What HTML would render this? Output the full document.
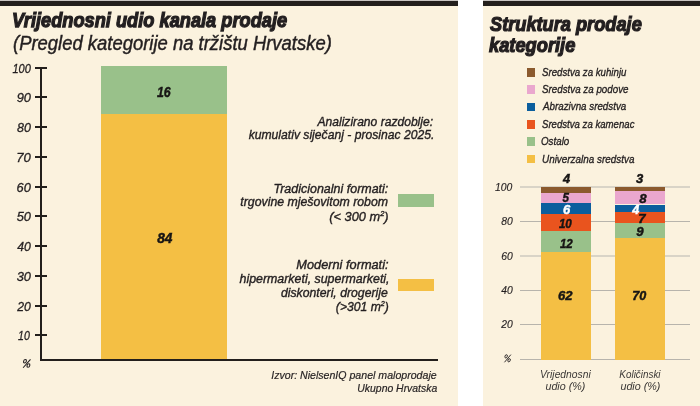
<!DOCTYPE html>
<html><head><meta charset="utf-8"><style>
html,body{margin:0;padding:0;background:#fff;width:700px;height:406px;overflow:hidden;position:relative;font-family:"Liberation Sans",sans-serif}
.t{will-change:transform}
</style></head><body>
<div style="position:absolute;left:0.00px;top:0.00px;width:458.00px;height:406.00px;background:#fbf2de"></div>
<div style="position:absolute;left:483.00px;top:0.00px;width:217.00px;height:406.00px;background:#fbf2de"></div>
<div style="position:absolute;left:0.00px;top:0.00px;width:458.00px;height:1.00px;background:#c9c5c2"></div>
<div style="position:absolute;left:0.00px;top:1.00px;width:458.00px;height:5.00px;background:#231f1c"></div>
<div style="position:absolute;left:483.00px;top:0.00px;width:217.00px;height:1.00px;background:#c9c5c2"></div>
<div style="position:absolute;left:483.00px;top:1.00px;width:217.00px;height:5.00px;background:#231f1c"></div>
<div style="position:absolute;left:35.00px;top:66.70px;width:11.50px;height:2.00px;background:#231f1c"></div>
<div style="position:absolute;left:35.00px;top:96.45px;width:11.50px;height:2.00px;background:#231f1c"></div>
<div style="position:absolute;left:35.00px;top:126.20px;width:11.50px;height:2.00px;background:#231f1c"></div>
<div style="position:absolute;left:35.00px;top:155.95px;width:11.50px;height:2.00px;background:#231f1c"></div>
<div style="position:absolute;left:35.00px;top:185.70px;width:11.50px;height:2.00px;background:#231f1c"></div>
<div style="position:absolute;left:35.00px;top:215.45px;width:11.50px;height:2.00px;background:#231f1c"></div>
<div style="position:absolute;left:35.00px;top:245.20px;width:11.50px;height:2.00px;background:#231f1c"></div>
<div style="position:absolute;left:35.00px;top:274.95px;width:11.50px;height:2.00px;background:#231f1c"></div>
<div style="position:absolute;left:35.00px;top:304.70px;width:11.50px;height:2.00px;background:#231f1c"></div>
<div style="position:absolute;left:35.00px;top:334.45px;width:11.50px;height:2.00px;background:#231f1c"></div>
<div style="position:absolute;left:101.00px;top:66.00px;width:125.50px;height:48.00px;background:#99c18a"></div>
<div style="position:absolute;left:101.00px;top:114.00px;width:125.50px;height:245.00px;background:#f4bf44"></div>
<div style="position:absolute;left:40.00px;top:67.00px;width:2.00px;height:294.00px;background:#231f1c"></div>
<div style="position:absolute;left:40.00px;top:359.00px;width:398.00px;height:2.00px;background:#231f1c"></div>
<div style="position:absolute;left:398.00px;top:194.40px;width:36.00px;height:12.30px;background:#99c18a"></div>
<div style="position:absolute;left:398.00px;top:279.00px;width:36.00px;height:12.00px;background:#f4bf44"></div>
<div style="position:absolute;left:526.70px;top:68.20px;width:8.60px;height:8.50px;background:#8b5a2e"></div>
<div style="position:absolute;left:526.70px;top:85.48px;width:8.60px;height:8.50px;background:#eaa7ce"></div>
<div style="position:absolute;left:526.70px;top:102.76px;width:8.60px;height:8.50px;background:#0b5e9d"></div>
<div style="position:absolute;left:526.70px;top:120.04px;width:8.60px;height:8.50px;background:#e9541e"></div>
<div style="position:absolute;left:526.70px;top:137.32px;width:8.60px;height:8.50px;background:#99c18a"></div>
<div style="position:absolute;left:526.70px;top:154.60px;width:8.60px;height:8.50px;background:#f4bf44"></div>
<div style="position:absolute;left:519.50px;top:186.00px;width:170.50px;height:2.00px;background:#d9d4c7"></div>
<div style="position:absolute;left:519.50px;top:221.00px;width:170.50px;height:1.00px;background:#b7b4ac"></div>
<div style="position:absolute;left:519.50px;top:255.00px;width:170.50px;height:2.00px;background:#d9d4c7"></div>
<div style="position:absolute;left:519.50px;top:290.00px;width:170.50px;height:1.00px;background:#b7b4ac"></div>
<div style="position:absolute;left:519.50px;top:324.00px;width:170.50px;height:1.00px;background:#b7b4ac"></div>
<div style="position:absolute;left:519.50px;top:359.00px;width:170.50px;height:1.00px;background:#b7b4ac"></div>
<div style="position:absolute;left:541.00px;top:187.20px;width:50.00px;height:6.00px;background:#8b5a2e"></div>
<div style="position:absolute;left:541.00px;top:193.20px;width:50.00px;height:9.80px;background:#eaa7ce"></div>
<div style="position:absolute;left:541.00px;top:203.00px;width:50.00px;height:11.00px;background:#0b5e9d"></div>
<div style="position:absolute;left:541.00px;top:214.00px;width:50.00px;height:17.30px;background:#e9541e"></div>
<div style="position:absolute;left:541.00px;top:231.30px;width:50.00px;height:20.80px;background:#99c18a"></div>
<div style="position:absolute;left:541.00px;top:252.10px;width:50.00px;height:107.90px;background:#f4bf44"></div>
<div style="position:absolute;left:615.00px;top:187.10px;width:50.00px;height:4.00px;background:#8b5a2e"></div>
<div style="position:absolute;left:615.00px;top:191.10px;width:50.00px;height:13.40px;background:#eaa7ce"></div>
<div style="position:absolute;left:615.00px;top:204.50px;width:50.00px;height:7.40px;background:#0b5e9d"></div>
<div style="position:absolute;left:615.00px;top:211.90px;width:50.00px;height:11.30px;background:#e9541e"></div>
<div style="position:absolute;left:615.00px;top:223.20px;width:50.00px;height:14.90px;background:#99c18a"></div>
<div style="position:absolute;left:615.00px;top:238.10px;width:50.00px;height:121.90px;background:#f4bf44"></div>
<svg style="position:absolute;left:0;top:0" width="700" height="406" viewBox="0 0 700 406"><ellipse cx="24.98" cy="361.25" rx="1.38" ry="1.79" transform="skewX(-12)" transform-origin="24.98 361.25" fill="none" stroke="#231f20" stroke-width="1.1"/><ellipse cx="28.42" cy="365.48" rx="1.38" ry="1.79" transform="skewX(-12)" transform-origin="28.42 365.48" fill="none" stroke="#231f20" stroke-width="1.1"/><line x1="23.09" y1="367.74" x2="30.48" y2="359.37" stroke="#231f20" stroke-width="1.1"/></svg>
<svg style="position:absolute;left:0;top:0" width="700" height="406" viewBox="0 0 700 406"><ellipse cx="506.12" cy="356.35" rx="1.18" ry="1.63" transform="skewX(-12)" transform-origin="506.12 356.35" fill="none" stroke="#231f20" stroke-width="0.9"/><ellipse cx="509.08" cy="360.22" rx="1.18" ry="1.63" transform="skewX(-12)" transform-origin="509.08 360.22" fill="none" stroke="#231f20" stroke-width="0.9"/><line x1="504.49" y1="362.28" x2="510.86" y2="354.63" stroke="#231f20" stroke-width="0.9"/></svg>
<div class="t" style="position:absolute;left:11.54px;top:10.32px;font-size:20.5px;line-height:20.5px;font-weight:bold;font-style:italic;color:#231f20;-webkit-text-stroke:1.25px #231f20;"><span style="display:inline-block;transform:scaleX(0.8890);transform-origin:0 0;white-space:nowrap">Vrijednosni udio kanala prodaje</span></div>
<div class="t" style="position:absolute;left:12.87px;top:32.90px;font-size:20px;line-height:20px;font-weight:normal;font-style:italic;color:#231f20;-webkit-text-stroke:0.45px #231f20;"><span style="display:inline-block;transform:scaleX(0.9222);transform-origin:0 0;white-space:nowrap">(Pregled kategorije na tržištu Hrvatske)</span></div>
<div class="t" style="position:absolute;right:669.48px;text-align:right;top:62.70px;font-size:12.5px;line-height:12.5px;font-weight:normal;font-style:italic;color:#231f20;-webkit-text-stroke:0.3px #231f20;"><span style="display:inline-block;transform:scaleX(0.8832);transform-origin:100% 0;white-space:nowrap">100</span></div>
<div class="t" style="position:absolute;right:669.47px;text-align:right;top:92.45px;font-size:12.5px;line-height:12.5px;font-weight:normal;font-style:italic;color:#231f20;-webkit-text-stroke:0.3px #231f20;"><span style="display:inline-block;transform:scaleX(1.0269);transform-origin:100% 0;white-space:nowrap">90</span></div>
<div class="t" style="position:absolute;right:669.47px;text-align:right;top:122.20px;font-size:12.5px;line-height:12.5px;font-weight:normal;font-style:italic;color:#231f20;-webkit-text-stroke:0.3px #231f20;"><span style="display:inline-block;transform:scaleX(0.9983);transform-origin:100% 0;white-space:nowrap">80</span></div>
<div class="t" style="position:absolute;right:669.33px;text-align:right;top:151.95px;font-size:12.5px;line-height:12.5px;font-weight:normal;font-style:italic;color:#231f20;-webkit-text-stroke:0.3px #231f20;"><span style="display:inline-block;transform:scaleX(1.0500);transform-origin:100% 0;white-space:nowrap">70</span></div>
<div class="t" style="position:absolute;right:669.56px;text-align:right;top:181.70px;font-size:12.5px;line-height:12.5px;font-weight:normal;font-style:italic;color:#231f20;-webkit-text-stroke:0.3px #231f20;"><span style="display:inline-block;transform:scaleX(1.0275);transform-origin:100% 0;white-space:nowrap">60</span></div>
<div class="t" style="position:absolute;right:669.47px;text-align:right;top:211.45px;font-size:12.5px;line-height:12.5px;font-weight:normal;font-style:italic;color:#231f20;-webkit-text-stroke:0.3px #231f20;"><span style="display:inline-block;transform:scaleX(1.0268);transform-origin:100% 0;white-space:nowrap">50</span></div>
<div class="t" style="position:absolute;right:669.45px;text-align:right;top:241.20px;font-size:12.5px;line-height:12.5px;font-weight:normal;font-style:italic;color:#231f20;-webkit-text-stroke:0.3px #231f20;"><span style="display:inline-block;transform:scaleX(0.9836);transform-origin:100% 0;white-space:nowrap">40</span></div>
<div class="t" style="position:absolute;right:669.44px;text-align:right;top:270.95px;font-size:12.5px;line-height:12.5px;font-weight:normal;font-style:italic;color:#231f20;-webkit-text-stroke:0.3px #231f20;"><span style="display:inline-block;transform:scaleX(1.0265);transform-origin:100% 0;white-space:nowrap">30</span></div>
<div class="t" style="position:absolute;right:669.47px;text-align:right;top:300.70px;font-size:12.5px;line-height:12.5px;font-weight:normal;font-style:italic;color:#231f20;-webkit-text-stroke:0.3px #231f20;"><span style="display:inline-block;transform:scaleX(0.9815);transform-origin:100% 0;white-space:nowrap">20</span></div>
<div class="t" style="position:absolute;right:669.65px;text-align:right;top:330.45px;font-size:12.5px;line-height:12.5px;font-weight:normal;font-style:italic;color:#231f20;-webkit-text-stroke:0.3px #231f20;"><span style="display:inline-block;transform:scaleX(0.8500);transform-origin:100% 0;white-space:nowrap">10</span></div>
<div class="t" style="position:absolute;left:-36.19px;width:400px;text-align:center;top:84.91px;font-size:14px;line-height:14px;font-weight:bold;font-style:italic;color:#171514;-webkit-text-stroke:0.45px #171514;"><span style="display:inline-block;transform:scaleX(0.8800);transform-origin:50% 0;white-space:nowrap">16</span></div>
<div class="t" style="position:absolute;left:-35.26px;width:400px;text-align:center;top:231.31px;font-size:14px;line-height:14px;font-weight:bold;font-style:italic;color:#171514;-webkit-text-stroke:0.45px #171514;"><span style="display:inline-block;transform:scaleX(0.9786);transform-origin:50% 0;white-space:nowrap">84</span></div>
<div class="t" style="position:absolute;right:266.89px;text-align:right;top:114.61px;font-size:13.5px;line-height:13.5px;font-weight:normal;font-style:italic;color:#231f20;-webkit-text-stroke:0.4px #231f20;"><span style="display:inline-block;transform:scaleX(0.8955);transform-origin:100% 0;white-space:nowrap">Analizirano razdoblje:</span></div>
<div class="t" style="position:absolute;right:265.39px;text-align:right;top:128.21px;font-size:13.5px;line-height:13.5px;font-weight:normal;font-style:italic;color:#231f20;-webkit-text-stroke:0.4px #231f20;"><span style="display:inline-block;transform:scaleX(0.8999);transform-origin:100% 0;white-space:nowrap">kumulativ siječanj - prosinac 2025.</span></div>
<div class="t" style="position:absolute;right:311.64px;text-align:right;top:181.91px;font-size:13.5px;line-height:13.5px;font-weight:normal;font-style:italic;color:#231f20;-webkit-text-stroke:0.4px #231f20;"><span style="display:inline-block;transform:scaleX(0.9233);transform-origin:100% 0;white-space:nowrap">Tradicionalni formati:</span></div>
<div class="t" style="position:absolute;right:311.47px;text-align:right;top:195.31px;font-size:13.5px;line-height:13.5px;font-weight:normal;font-style:italic;color:#231f20;-webkit-text-stroke:0.4px #231f20;"><span style="display:inline-block;transform:scaleX(0.9119);transform-origin:100% 0;white-space:nowrap">trgovine mješovitom robom</span></div>
<div class="t" style="position:absolute;right:311.30px;text-align:right;top:209.91px;font-size:13.5px;line-height:13.5px;font-weight:normal;font-style:italic;color:#231f20;-webkit-text-stroke:0.4px #231f20;"><span style="display:inline-block;transform:scaleX(0.9464);transform-origin:100% 0;white-space:nowrap">(&lt; 300 m<sup style="font-size:8px;vertical-align:5px;line-height:0">2</sup>)</span></div>
<div class="t" style="position:absolute;right:311.44px;text-align:right;top:258.11px;font-size:13.5px;line-height:13.5px;font-weight:normal;font-style:italic;color:#231f20;-webkit-text-stroke:0.4px #231f20;"><span style="display:inline-block;transform:scaleX(0.9454);transform-origin:100% 0;white-space:nowrap">Moderni formati:</span></div>
<div class="t" style="position:absolute;right:310.35px;text-align:right;top:272.31px;font-size:13.5px;line-height:13.5px;font-weight:normal;font-style:italic;color:#231f20;-webkit-text-stroke:0.4px #231f20;"><span style="display:inline-block;transform:scaleX(0.9175);transform-origin:100% 0;white-space:nowrap">hipermarketi, supermarketi,</span></div>
<div class="t" style="position:absolute;right:312.16px;text-align:right;top:286.21px;font-size:13.5px;line-height:13.5px;font-weight:normal;font-style:italic;color:#231f20;-webkit-text-stroke:0.4px #231f20;"><span style="display:inline-block;transform:scaleX(0.9072);transform-origin:100% 0;white-space:nowrap">diskonteri, drogerije</span></div>
<div class="t" style="position:absolute;right:310.97px;text-align:right;top:300.11px;font-size:13.5px;line-height:13.5px;font-weight:normal;font-style:italic;color:#231f20;-webkit-text-stroke:0.4px #231f20;"><span style="display:inline-block;transform:scaleX(0.9006);transform-origin:100% 0;white-space:nowrap">(&gt;301 m<sup style="font-size:8px;vertical-align:5px;line-height:0">2</sup>)</span></div>
<div class="t" style="position:absolute;right:263.16px;text-align:right;top:370.00px;font-size:11.5px;line-height:11.5px;font-weight:normal;font-style:italic;color:#231f20;-webkit-text-stroke:0.2px #231f20;"><span style="display:inline-block;transform:scaleX(0.9209);transform-origin:100% 0;white-space:nowrap">Izvor: NielsenIQ panel maloprodaje</span></div>
<div class="t" style="position:absolute;right:262.98px;text-align:right;top:382.60px;font-size:11.5px;line-height:11.5px;font-weight:normal;font-style:italic;color:#231f20;-webkit-text-stroke:0.2px #231f20;"><span style="display:inline-block;transform:scaleX(0.9056);transform-origin:100% 0;white-space:nowrap">Ukupno Hrvatska</span></div>
<div class="t" style="position:absolute;left:489.67px;top:14.01px;font-size:20px;line-height:20px;font-weight:bold;font-style:italic;color:#231f20;-webkit-text-stroke:1.2px #231f20;"><span style="display:inline-block;transform:scaleX(0.9104);transform-origin:0 0;white-space:nowrap">Struktura prodaje</span></div>
<div class="t" style="position:absolute;left:489.39px;top:35.21px;font-size:20px;line-height:20px;font-weight:bold;font-style:italic;color:#231f20;-webkit-text-stroke:1.2px #231f20;"><span style="display:inline-block;transform:scaleX(0.9140);transform-origin:0 0;white-space:nowrap">kategorije</span></div>
<div class="t" style="position:absolute;left:541.84px;top:66.71px;font-size:11.8px;line-height:11.8px;font-weight:normal;font-style:italic;color:#231f20;-webkit-text-stroke:0.35px #231f20;"><span style="display:inline-block;transform:scaleX(0.8200);transform-origin:0 0;white-space:nowrap">Sredstva za kuhinju</span></div>
<div class="t" style="position:absolute;left:541.83px;top:84.06px;font-size:11.8px;line-height:11.8px;font-weight:normal;font-style:italic;color:#231f20;-webkit-text-stroke:0.35px #231f20;"><span style="display:inline-block;transform:scaleX(0.8300);transform-origin:0 0;white-space:nowrap">Sredstva za podove</span></div>
<div class="t" style="position:absolute;left:542.78px;top:101.43px;font-size:11.8px;line-height:11.8px;font-weight:normal;font-style:italic;color:#231f20;-webkit-text-stroke:0.35px #231f20;"><span style="display:inline-block;transform:scaleX(0.8300);transform-origin:0 0;white-space:nowrap">Abrazivna sredstva</span></div>
<div class="t" style="position:absolute;left:541.83px;top:118.79px;font-size:11.8px;line-height:11.8px;font-weight:normal;font-style:italic;color:#231f20;-webkit-text-stroke:0.35px #231f20;"><span style="display:inline-block;transform:scaleX(0.8152);transform-origin:0 0;white-space:nowrap">Sredstva za kamenac</span></div>
<div class="t" style="position:absolute;left:541.25px;top:136.14px;font-size:11.8px;line-height:11.8px;font-weight:normal;font-style:italic;color:#231f20;-webkit-text-stroke:0.35px #231f20;"><span style="display:inline-block;transform:scaleX(0.8300);transform-origin:0 0;white-space:nowrap">Ostalo</span></div>
<div class="t" style="position:absolute;left:541.73px;top:153.51px;font-size:11.8px;line-height:11.8px;font-weight:normal;font-style:italic;color:#231f20;-webkit-text-stroke:0.35px #231f20;"><span style="display:inline-block;transform:scaleX(0.8388);transform-origin:0 0;white-space:nowrap">Univerzalna sredstva</span></div>
<div class="t" style="position:absolute;right:187.99px;text-align:right;top:182.22px;font-size:11.5px;line-height:11.5px;font-weight:normal;font-style:italic;color:#231f20;-webkit-text-stroke:0.15px #231f20;"><span style="display:inline-block;transform:scaleX(0.9000);transform-origin:100% 0;white-space:nowrap">100</span></div>
<div class="t" style="position:absolute;right:187.68px;text-align:right;top:216.40px;font-size:11.5px;line-height:11.5px;font-weight:normal;font-style:italic;color:#231f20;-webkit-text-stroke:0.15px #231f20;"><span style="display:inline-block;transform:scaleX(0.9000);transform-origin:100% 0;white-space:nowrap">80</span></div>
<div class="t" style="position:absolute;right:187.68px;text-align:right;top:250.72px;font-size:11.5px;line-height:11.5px;font-weight:normal;font-style:italic;color:#231f20;-webkit-text-stroke:0.15px #231f20;"><span style="display:inline-block;transform:scaleX(0.9000);transform-origin:100% 0;white-space:nowrap">60</span></div>
<div class="t" style="position:absolute;right:187.68px;text-align:right;top:285.22px;font-size:11.5px;line-height:11.5px;font-weight:normal;font-style:italic;color:#231f20;-webkit-text-stroke:0.15px #231f20;"><span style="display:inline-block;transform:scaleX(0.9000);transform-origin:100% 0;white-space:nowrap">40</span></div>
<div class="t" style="position:absolute;right:187.68px;text-align:right;top:319.32px;font-size:11.5px;line-height:11.5px;font-weight:normal;font-style:italic;color:#231f20;-webkit-text-stroke:0.15px #231f20;"><span style="display:inline-block;transform:scaleX(0.9000);transform-origin:100% 0;white-space:nowrap">20</span></div>
<div class="t" style="position:absolute;left:366.53px;width:400px;text-align:center;top:171.71px;font-size:13.2px;line-height:13.2px;font-weight:bold;font-style:italic;color:#171514;-webkit-text-stroke:0.45px #171514;"><span style="display:inline-block;transform:scaleX(0.9772);transform-origin:50% 0;white-space:nowrap">4</span></div>
<div class="t" style="position:absolute;left:439.73px;width:400px;text-align:center;top:171.71px;font-size:13.2px;line-height:13.2px;font-weight:bold;font-style:italic;color:#171514;-webkit-text-stroke:0.45px #171514;"><span style="display:inline-block;transform:scaleX(0.9885);transform-origin:50% 0;white-space:nowrap">3</span></div>
<div class="t" style="position:absolute;left:366.33px;width:400px;text-align:center;top:191.31px;font-size:13.2px;line-height:13.2px;font-weight:bold;font-style:italic;color:#171514;-webkit-text-stroke:0.45px #171514;"><span style="display:inline-block;transform:scaleX(0.8800);transform-origin:50% 0;white-space:nowrap">5</span></div>
<div class="t" style="position:absolute;left:366.71px;width:400px;text-align:center;top:202.61px;font-size:13.2px;line-height:13.2px;font-weight:bold;font-style:italic;color:#fff;-webkit-text-stroke:0.45px #fff;"><span style="display:inline-block;transform:scaleX(0.9847);transform-origin:50% 0;white-space:nowrap">6</span></div>
<div class="t" style="position:absolute;left:365.31px;width:400px;text-align:center;top:216.81px;font-size:13.2px;line-height:13.2px;font-weight:bold;font-style:italic;color:#171514;-webkit-text-stroke:0.45px #171514;"><span style="display:inline-block;transform:scaleX(0.8800);transform-origin:50% 0;white-space:nowrap">10</span></div>
<div class="t" style="position:absolute;left:365.82px;width:400px;text-align:center;top:236.71px;font-size:13.2px;line-height:13.2px;font-weight:bold;font-style:italic;color:#171514;-webkit-text-stroke:0.45px #171514;"><span style="display:inline-block;transform:scaleX(0.8800);transform-origin:50% 0;white-space:nowrap">12</span></div>
<div class="t" style="position:absolute;left:365.28px;width:400px;text-align:center;top:288.61px;font-size:13.2px;line-height:13.2px;font-weight:bold;font-style:italic;color:#171514;-webkit-text-stroke:0.45px #171514;"><span style="display:inline-block;transform:scaleX(0.9869);transform-origin:50% 0;white-space:nowrap">62</span></div>
<div class="t" style="position:absolute;left:442.56px;width:400px;text-align:center;top:191.61px;font-size:13.2px;line-height:13.2px;font-weight:bold;font-style:italic;color:#171514;-webkit-text-stroke:0.45px #171514;"><span style="display:inline-block;transform:scaleX(1.0000);transform-origin:50% 0;white-space:nowrap">8</span></div>
<div class="t" style="position:absolute;left:435.74px;width:400px;text-align:center;top:202.71px;font-size:13.2px;line-height:13.2px;font-weight:bold;font-style:italic;color:#fff;-webkit-text-stroke:0.45px #fff;"><span style="display:inline-block;transform:scaleX(0.9623);transform-origin:50% 0;white-space:nowrap">4</span></div>
<div class="t" style="position:absolute;left:442.06px;width:400px;text-align:center;top:211.71px;font-size:13.2px;line-height:13.2px;font-weight:bold;font-style:italic;color:#171514;-webkit-text-stroke:0.45px #171514;"><span style="display:inline-block;transform:scaleX(1.0000);transform-origin:50% 0;white-space:nowrap">7</span></div>
<div class="t" style="position:absolute;left:440.42px;width:400px;text-align:center;top:224.81px;font-size:13.2px;line-height:13.2px;font-weight:bold;font-style:italic;color:#171514;-webkit-text-stroke:0.45px #171514;"><span style="display:inline-block;transform:scaleX(1.0000);transform-origin:50% 0;white-space:nowrap">9</span></div>
<div class="t" style="position:absolute;left:438.62px;width:400px;text-align:center;top:288.61px;font-size:13.2px;line-height:13.2px;font-weight:bold;font-style:italic;color:#171514;-webkit-text-stroke:0.45px #171514;"><span style="display:inline-block;transform:scaleX(0.9563);transform-origin:50% 0;white-space:nowrap">70</span></div>
<div class="t" style="position:absolute;left:364.82px;width:400px;text-align:center;top:369.10px;font-size:11.5px;line-height:11.5px;font-weight:normal;font-style:italic;color:#3b3836;"><span style="display:inline-block;transform:scaleX(0.8967);transform-origin:50% 0;white-space:nowrap">Vrijednosni</span></div>
<div class="t" style="position:absolute;left:365.20px;width:400px;text-align:center;top:381.40px;font-size:11.5px;line-height:11.5px;font-weight:normal;font-style:italic;color:#3b3836;"><span style="display:inline-block;transform:scaleX(0.9344);transform-origin:50% 0;white-space:nowrap">udio (%)</span></div>
<div class="t" style="position:absolute;left:439.85px;width:400px;text-align:center;top:369.10px;font-size:11.5px;line-height:11.5px;font-weight:normal;font-style:italic;color:#3b3836;"><span style="display:inline-block;transform:scaleX(0.8592);transform-origin:50% 0;white-space:nowrap">Količinski</span></div>
<div class="t" style="position:absolute;left:439.50px;width:400px;text-align:center;top:381.40px;font-size:11.5px;line-height:11.5px;font-weight:normal;font-style:italic;color:#3b3836;"><span style="display:inline-block;transform:scaleX(0.9344);transform-origin:50% 0;white-space:nowrap">udio (%)</span></div>
</body></html>
